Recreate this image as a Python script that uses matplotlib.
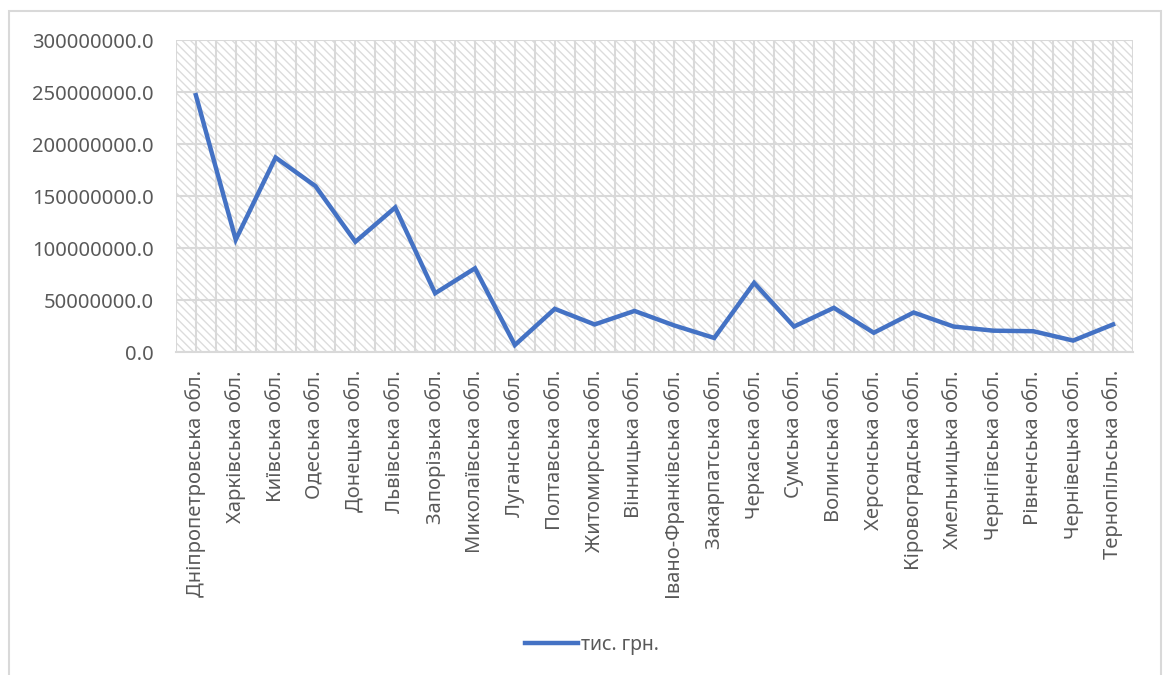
import numpy as np
import matplotlib.pyplot as plt
from matplotlib.patches import Rectangle

plt.rcParams['font.family'] = ['Noto Sans', 'DejaVu Sans']
plt.rcParams['hatch.color'] = '#dcdcdc'
plt.rcParams['hatch.linewidth'] = 1.0

regions = ["Дніпропетровська обл.", "Харківська обл.", "Київська обл.", "Одеська обл.",
           "Донецька обл.", "Львівська обл.", "Запорізька обл.", "Миколаївська обл.",
           "Луганська обл.", "Полтавська обл.", "Житомирська обл.", "Вінницька обл.",
           "Івано-Франківська обл.", "Закарпатська обл.", "Черкаська обл.", "Сумська обл.",
           "Волинська обл.", "Херсонська обл.", "Кіровоградська обл.", "Хмельницька обл.",
           "Чернігівська обл.", "Рівненська обл.", "Чернівецька обл.", "Тернопільська обл."]
values = [247.0, 108.0, 187.0, 159.5, 106.0, 139.0, 56.5, 80.5,
          6.7, 41.5, 26.5, 39.5, 25.5, 13.5, 66.5, 24.5,
          42.5, 18.5, 38.0, 24.5, 20.5, 20.0, 11.0, 26.5]
values = np.array(values) * 1e6
yticks = np.arange(0, 300000001, 50000000)

fig = plt.figure(figsize=(11.65, 6.75), dpi=100)
ax = fig.add_axes([0.151, 0.4785, 0.8215, 0.4622])

x = np.arange(len(regions))
ax.patch.set_facecolor('white')
ax.patch.set_hatch('\\\\\\\\')
ax.patch.set_edgecolor('#dcdcdc')

ax.plot(x, values, color='#4472c4', lw=3.2, solid_joinstyle='miter', label='тис. грн.', zorder=3)

ax.set_xlim(-0.5, len(regions) - 0.5)
ax.set_ylim(0, 300000000)
ax.set_yticks(yticks)
ax.set_yticklabels([f"{v:.1f}" for v in yticks])
ax.set_xticks(np.arange(-0.5, len(regions), 1.0))
ax.set_xticklabels([])
ax.set_xticks(x, minor=True)
ax.set_xticklabels(regions, minor=True, rotation=90)
ax.tick_params(axis='both', which='both', length=0, colors='#595959', labelsize=14.5)
ax.tick_params(axis='x', which='minor', pad=13)
ax.tick_params(axis='y', pad=16)
ax.grid(True, which='both', color='#d9d9d9', lw=1.5, zorder=1)
ax.set_axisbelow(True)
for s in ['top', 'left', 'right']:
    ax.spines[s].set_visible(False)
ax.spines['bottom'].set_color('#d9d9d9')
ax.spines['bottom'].set_linewidth(1.5)

leg = fig.legend(loc='center', bbox_to_anchor=(0.508, 0.045), frameon=False,
                 fontsize=14, handlelength=2.7, handletextpad=0.15)
for t in leg.get_texts():
    t.set_color('#595959')

fig.patches.append(Rectangle((9 / 1165, -0.05), 1152 / 1165, 1 - 11 / 675 + 0.05,
                             transform=fig.transFigure, fill=False,
                             edgecolor='#d9d9d9', lw=1.5))

fig.savefig('out.png', dpi=100)
